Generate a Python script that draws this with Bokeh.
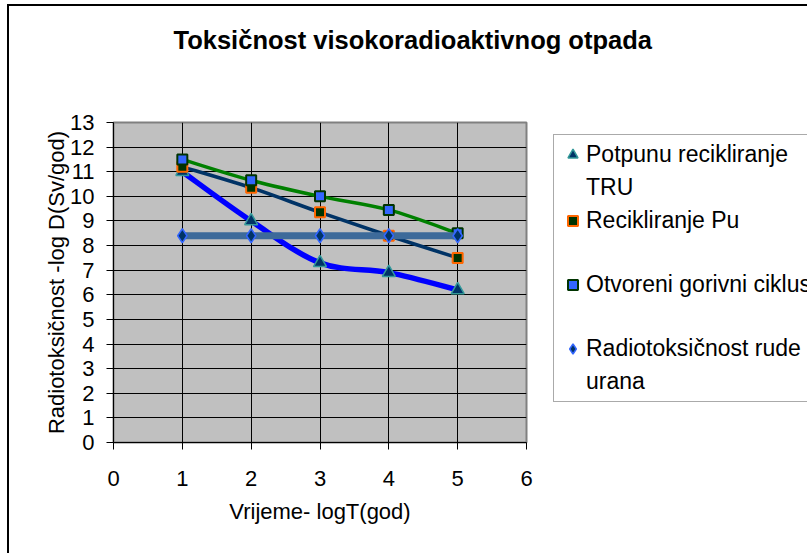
import numpy as np
from bokeh.plotting import figure
from bokeh.models import (FixedTicker, Range1d, Legend, LegendItem, Title)
from bokeh.embed import file_html
from bokeh.resources import INLINE

# ---- data ----
x_vals = [1, 2, 3, 4, 5]
tru = [11.0, 9.0, 7.3, 6.9, 6.2]          # Potpunu recikliranje TRU
pu = [11.2, 10.35, 9.35, 8.4, 7.5]         # Recikliranje Pu
otvoreni = [11.5, 10.65, 10.0, 9.45, 8.5]  # Otvoreni gorivni ciklus
ruda = [8.4, 8.4, 8.4, 8.4, 8.4]           # Radiotoksičnost rude urana
x_ticks = [0, 1, 2, 3, 4, 5, 6]
y_ticks = list(range(0, 14))

title_text = "Toksičnost visokoradioaktivnog otpada"
x_label = "Vrijeme- logT(god)"
y_label = "Radiotoksičnost -log D(Sv/god)"
# legend rows: (first line, continuation line or None)
legend_rows = [("Potpunu recikliranje", "TRU"), ("Recikliranje Pu", None),
               ("Otvoreni gorivni ciklus", None), ("Radiotoksičnost rude", "urana")]

FONT = "Liberation Sans"


def smooth_segments(xs, ys):
    """Catmull-Rom style bezier control points (like Excel smoothed lines)."""
    P = np.column_stack([xs, ys]).astype(float)
    ext = np.vstack([P[:1], P, P[-1:]])
    p0 = ext[1:-2]
    p1 = ext[2:-1]
    pm = ext[:-3]
    pp = ext[3:]
    c0 = p0 + (p1 - pm) / 6.0
    c1 = p1 - (pp - p0) / 6.0
    return dict(x0=p0[:, 0], y0=p0[:, 1], x1=p1[:, 0], y1=p1[:, 1],
                cx0=c0[:, 0], cy0=c0[:, 1], cx1=c1[:, 0], cy1=c1[:, 1])


p = figure(frame_width=413, frame_height=320,
           min_border_left=104, min_border_top=116,
           min_border_right=281, min_border_bottom=111,
           x_range=Range1d(0, 6), y_range=Range1d(0, 13),
           output_backend="svg", toolbar_location=None,
           background_fill_color="#C0C0C0", border_fill_color="white")
p.styles = {"margin-left": "7px", "margin-top": "4px",
            "border-left": "2px solid black", "border-top": "2px solid black"}

p.outline_line_color = "#808080"
p.outline_line_width = 2

# real title (outermost), plus a small spacer between it and the plot area
p.title.text = title_text
p.title.align = "left"
p.title.offset = 60
p.title.standoff = 38
p.title.vertical_align = "top"
p.title.text_font = FONT
p.title.text_font_size = "25.5px"
p.title.text_font_style = "bold"
p.title.text_color = "black"

spacer = Title(text=" ", text_font_size="1px", standoff=45)
p.add_layout(spacer, "above")

for ax in (p.xaxis[0], p.yaxis[0]):
    ax.axis_line_color = "black"
    ax.axis_line_width = 1
    ax.major_tick_line_color = "black"
    ax.major_tick_out = 7
    ax.major_tick_in = 0
    ax.minor_tick_line_color = None
    ax.major_label_text_font = FONT
    ax.major_label_text_font_size = "22px"
    ax.major_label_text_color = "black"
    ax.axis_label_text_font = FONT
    ax.axis_label_text_font_size = "22px"
    ax.axis_label_text_font_style = "normal"
    ax.axis_label_text_color = "black"

p.xaxis[0].ticker = FixedTicker(ticks=x_ticks)
p.yaxis[0].ticker = FixedTicker(ticks=y_ticks)
p.xaxis[0].axis_label = x_label
p.yaxis[0].axis_label = y_label
p.xaxis[0].major_label_standoff = 21
p.yaxis[0].major_label_standoff = 12
p.xaxis[0].axis_label_standoff = 10
p.yaxis[0].axis_label_standoff = -2

p.xgrid[0].ticker = FixedTicker(ticks=x_ticks)
p.ygrid[0].ticker = FixedTicker(ticks=y_ticks)
for g in (p.xgrid[0], p.ygrid[0]):
    g.grid_line_color = "black"
    g.grid_line_width = 1

# ---- series ----
series = [
    dict(y=tru, line="#0000FF", lw=5.5, marker="triangle", fill="#003366", edge="#339999", size=13, elw=1.5),
    dict(y=pu, line="#003366", lw=3.5, marker="square", fill="#003300", edge="#FF6600", size=10, elw=2),
    dict(y=otvoreni, line="#008000", lw=3.5, marker="square", fill="#3366FF", edge="#003300", size=10, elw=2),
    dict(y=ruda, line="#3D6A9A", lw=7, marker="diamond", fill="#003366", edge="#3366FF", size=14, elw=1.5),
]

# invisible renderer used for continuation / blank legend rows
blank = p.scatter([], [], marker="square", size=1, fill_alpha=0, line_alpha=0)

items = []
for k, (s, (first, second)) in enumerate(zip(series, legend_rows)):
    seg = smooth_segments(x_vals, s["y"])
    p.bezier(line_color=s["line"], line_width=s["lw"], line_cap="round", **seg)
    r = p.scatter(x_vals, s["y"], marker=s["marker"], size=s["size"],
                  fill_color=s["fill"], line_color=s["edge"], line_width=s["elw"])
    items.append(LegendItem(label=first, renderers=[r]))
    if second is not None:
        items.append(LegendItem(label=second, renderers=[blank]))
    elif k < len(series) - 1:
        items.append(LegendItem(label=" ", renderers=[blank]))

legend = Legend(items=items, location=(27, 40),
                label_text_font=FONT, label_text_font_size="23px",
                label_text_color="black",
                glyph_width=25, glyph_height=25, label_height=25,
                label_standoff=1, padding=6, spacing=6, margin=0,
                border_line_color="#555555", border_line_width=1.5,
                background_fill_color="white", background_fill_alpha=1)
p.add_layout(legend, "right")

html = file_html(p, INLINE)
open("out.html", "w").write(html)
